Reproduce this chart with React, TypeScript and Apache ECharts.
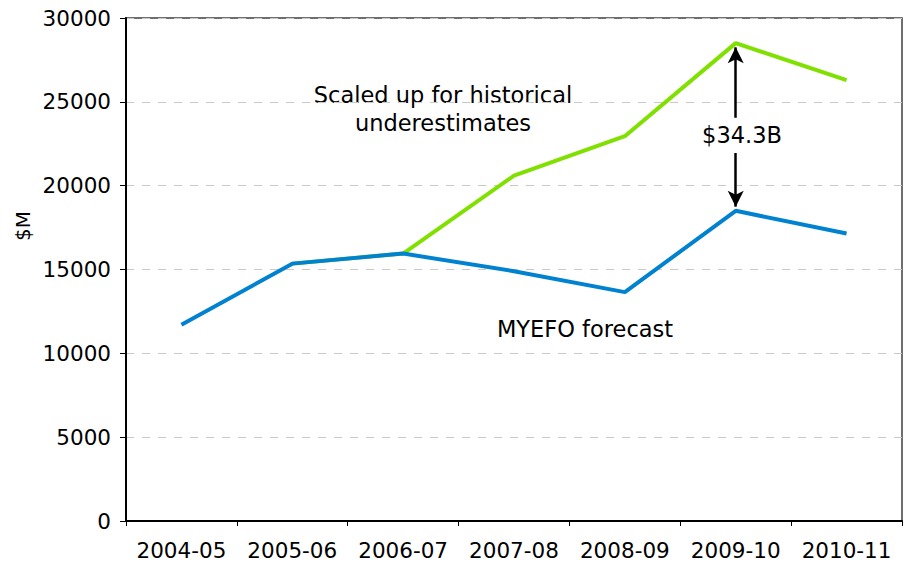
import React, { useEffect, useRef } from "react";
import * as echarts from "echarts";

const categories = ["2004-05", "2005-06", "2006-07", "2007-08", "2008-09", "2009-10", "2010-11"];
const myefo = [11700, 15350, 15950, 14900, 13650, 18500, 17150];
const scaled = [null, 15350, 15950, 20600, 22950, 28500, 26300];
const arrowTop = [28250, 24050];
const arrowBottom = [21950, 18750];

const FONT = "DejaVu Sans";

export default function App() {
  const ref = useRef<HTMLDivElement>(null);
  useEffect(() => {
    const chart = echarts.init(ref.current!, null, { renderer: "svg" });
    chart.setOption({
      animation: false,
      backgroundColor: "#ffffff",
      textStyle: { fontFamily: FONT },
      grid: { left: 126, right: 2, top: 18, bottom: 46, show: true, borderColor: "#404040", borderWidth: 1.5 },
      xAxis: {
        type: "category",
        data: categories,
        boundaryGap: true,
        axisLine: { lineStyle: { color: "#000", width: 2 } },
        axisTick: { show: true, interval: 0, length: 5, lineStyle: { color: "#000", width: 1 } },
        axisLabel: { color: "#000", fontSize: 21.5, fontFamily: FONT, margin: 18, interval: 0, hideOverlap: false },
        splitLine: { show: false },
      },
      yAxis: {
        type: "value",
        min: 0,
        max: 30000,
        interval: 5000,
        axisLine: { show: true, lineStyle: { color: "#000", width: 2 } },
        axisTick: { show: true, length: 6, lineStyle: { color: "#000" } },
        axisLabel: { color: "#000", fontSize: 21.5, fontFamily: FONT, margin: 15, formatter: (v: number) => String(v) },
        splitLine: { show: true, lineStyle: { color: "#c8c8c8", type: [8, 8], width: 1 } },
      },
      series: [
        {
          name: "Scaled",
          type: "line",
          data: scaled,
          symbol: "none",
          lineStyle: { color: "#80e000", width: 4 },
          z: 2,
          markLine: {
            silent: true,
            symbol: ["none", "arrow"],
            symbolSize: [12, 16],
            label: { show: false },
            lineStyle: { color: "#000", width: 2.5, type: "solid" },
            data: [
              [{ coord: ["2009-10", arrowTop[1]] }, { coord: ["2009-10", arrowTop[0]] }],
              [{ coord: ["2009-10", arrowBottom[0]] }, { coord: ["2009-10", arrowBottom[1]] }],
            ],
          },
        },
        {
          name: "MYEFO",
          type: "line",
          data: myefo,
          symbol: "none",
          lineStyle: { color: "#0082d0", width: 4 },
          z: 3,
        },
      ],
      graphic: [
        {
          type: "text",
          x: 23,
          y: 226,
          rotation: Math.PI / 2,
          style: { text: "$M", fill: "#000", font: `20px "${FONT}"`, textAlign: "center", textVerticalAlign: "middle" },
        },
        {
          type: "text",
          x: 443,
          y: 95,
          style: { text: "Scaled up for historical", fill: "#000", font: `22.5px "${FONT}"`, textAlign: "center", textVerticalAlign: "middle" },
        },
        {
          type: "text",
          x: 443,
          y: 123,
          style: { text: "underestimates", fill: "#000", font: `22.5px "${FONT}"`, textAlign: "center", textVerticalAlign: "middle" },
        },
        {
          type: "text",
          x: 585,
          y: 329,
          style: { text: "MYEFO forecast", fill: "#000", font: `22.5px "${FONT}"`, textAlign: "center", textVerticalAlign: "middle" },
        },
        {
          type: "text",
          x: 742,
          y: 135,
          style: { text: "$34.3B", fill: "#000", font: `22.5px "${FONT}"`, textAlign: "center", textVerticalAlign: "middle" },
        },
      ],
    });
    return () => chart.dispose();
  }, []);
  return <div ref={ref} style={{ width: 904, height: 567, position: "absolute", left: 0, top: 0 }} />;
}
